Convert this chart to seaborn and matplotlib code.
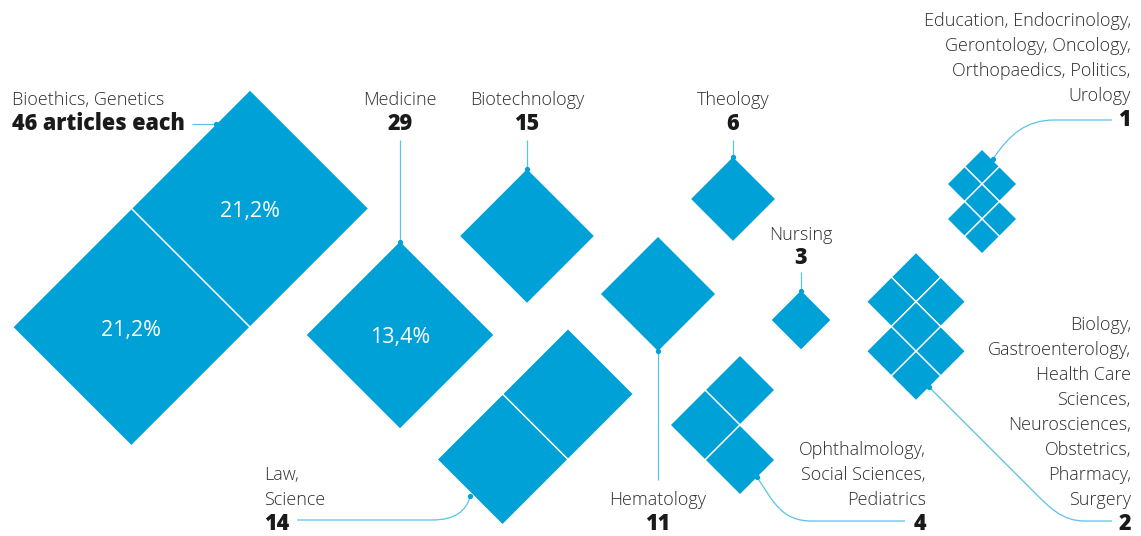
import numpy as np
import pandas as pd
import matplotlib
matplotlib.use("Agg")
import matplotlib.pyplot as plt
from matplotlib.path import Path
from matplotlib.patches import PathPatch
import seaborn as sns

# ---- data: articles per research field (fields sharing a count are grouped) ----
group_names = [
    "Bioethics, Genetics",
    "Medicine",
    "Biotechnology",
    "Theology",
    "Nursing",
    "Hematology",
    "Law,\nScience",
    "Ophthalmology,\nSocial Sciences,\nPediatrics",
    "Biology,\nGastroenterology,\nHealth Care\nSciences,\nNeurosciences,\nObstetrics,\nPharmacy,\nSurgery",
    "Education, Endocrinology,\nGerontology, Oncology,\nOrthopaedics, Politics,\nUrology",
]
articles_per_field = [46, 29, 15, 6, 3, 11, 14, 4, 2, 1]
fields_in_group = [2, 1, 1, 1, 1, 1, 2, 3, 7, 7]
count_labels = ["46 articles each", "29", "15", "6", "3", "11", "14", "4", "2", "1"]

# ---- layout ----
W, H = 1141, 536
BLUE = "#00A1D7"
LEADER = "#5BC2EA"
TEXT = "#2e2e2e"
DARK = "#1a1a1a"
HALF_DIAG_PER_SQRT = 17.5          # half-diagonal (px) of a one-article diamond

# tile patterns, offsets in half-diagonal units
PATTERNS = {
    1: [(0, 0)],
    2: [(0, 0), (-1, 1)],
    3: [(0, 0), (-1, 1), (0, 2)],
    7: [(0, 0), (-1, 1), (1, 1), (0, 2), (-1, 3), (1, 3), (0, 4)],
}
# centre of the first tile of each group
anchors = [(250, 208.5), (400, 335), (527, 236), (733, 199), (801, 320),
           (658, 294), (568, 394), (740, 390), (916, 277), (982, 166.5)]

rows = []
for g, (n, c, (ax0, ay0)) in enumerate(zip(fields_in_group, articles_per_field, anchors)):
    h = HALF_DIAG_PER_SQRT * np.sqrt(c)
    for dx, dy in PATTERNS[n]:
        rows.append({"group": g, "x": ax0 + dx * h, "y": ay0 + dy * h, "articles": c})
tiles = pd.DataFrame(rows)

total = sum(a * n for a, n in zip(articles_per_field, fields_in_group))

sns.set_theme(style="white")
plt.rcParams["font.family"] = ["Open Sans", "DejaVu Sans"]

fig = plt.figure(figsize=(W / 100, H / 100), dpi=100)
ax = fig.add_axes([0, 0, 1, 1])

# marker area for 'D' so that its half-diagonal equals the pixel half-diagonal
def marker_area(c):
    h = HALF_DIAG_PER_SQRT * np.sqrt(c)
    return (h * 72 / (np.sqrt(0.5) * 100)) ** 2

cmin, cmax = min(articles_per_field), max(articles_per_field)
sns.scatterplot(data=tiles, x="x", y="y", size="articles",
                sizes=(marker_area(cmin), marker_area(cmax)), size_norm=(cmin, cmax),
                marker="D", color=BLUE, edgecolor="white", linewidth=1.0,
                legend=False, ax=ax, zorder=3)
ax.set_xlim(0, W)
ax.set_ylim(H, 0)
ax.axis("off")

# ---- leader lines ----
def leader(points, codes=None, dot=None):
    if codes is None:
        codes = [Path.MOVETO] + [Path.LINETO] * (len(points) - 1)
    ax.add_patch(PathPatch(Path(points, codes), fill=False, edgecolor=LEADER,
                           lw=0.9, zorder=2))
    if dot is not None:
        ax.plot(*dot, "o", color=BLUE, ms=3.8, mec="none", zorder=4)

C4, L = Path.CURVE4, Path.LINETO
leader([(192, 124), (216, 124)], dot=(216, 124))
leader([(400, 140), (400, 241)], dot=(400, 241.5))
leader([(527, 140), (527, 168)], dot=(527, 168.5))
leader([(733, 140), (733, 156)], dot=(733, 156.5))
leader([(801, 272), (801, 291)], dot=(801, 291))
leader([(658, 351), (658, 480)], dot=(658, 351))
leader([(297, 520), (432, 520), (455, 520), (466, 511), (470, 497)],
       [Path.MOVETO, L, C4, C4, C4], dot=(470, 496))
leader([(757, 477), (774, 503), (782, 521), (812, 521), (905, 521)],
       [Path.MOVETO, C4, C4, C4, L], dot=(757, 477))
leader([(929, 387), (1032, 490), (1050, 508), (1062, 521), (1085, 521), (1112, 521)],
       [Path.MOVETO, L, C4, C4, C4, L], dot=(929, 387))
leader([(993, 159), (1010, 134), (1026, 120), (1055, 120), (1112, 120)],
       [Path.MOVETO, C4, C4, C4, L], dot=(993, 159))

# ---- labels ----
REG = dict(fontsize=13, color=TEXT, fontweight="light")
BOLD = dict(fontsize=15.5, color=DARK, fontweight="heavy")
LINE = 25

# (x, baseline of last name line, ha) for each group
label_pos = [(12, 105, "left"), (400, 105, "center"), (527, 105, "center"),
             (733, 105, "center"), (801, 240, "center"), (658, 505, "center"),
             (264, 505, "left"), (926, 505, "right"), (1131, 505, "right"),
             (1131, 101, "right")]

for name, cl, (x, yb, ha) in zip(group_names, count_labels, label_pos):
    lines = name.split("\n")
    for i, line in enumerate(lines):
        ax.text(x, yb - (len(lines) - 1 - i) * LINE, line, ha=ha, va="baseline",
                linespacing=1.0, **REG)
    ax.text(x, yb + 24.5, cl, ha=ha, va="baseline", **BOLD)

# share labels on the largest tiles
def pct(c):
    return f"{100 * c / total:.1f}%".replace(".", ",")

PCT = dict(fontsize=15.5, color="white", fontweight="normal", ha="center", va="center")
for _, r in tiles[tiles["articles"] >= 29].iterrows():
    ax.text(r["x"], r["y"] + 3, pct(r["articles"]), zorder=5, **PCT)

fig.savefig("out.png", dpi=100, facecolor="white")
